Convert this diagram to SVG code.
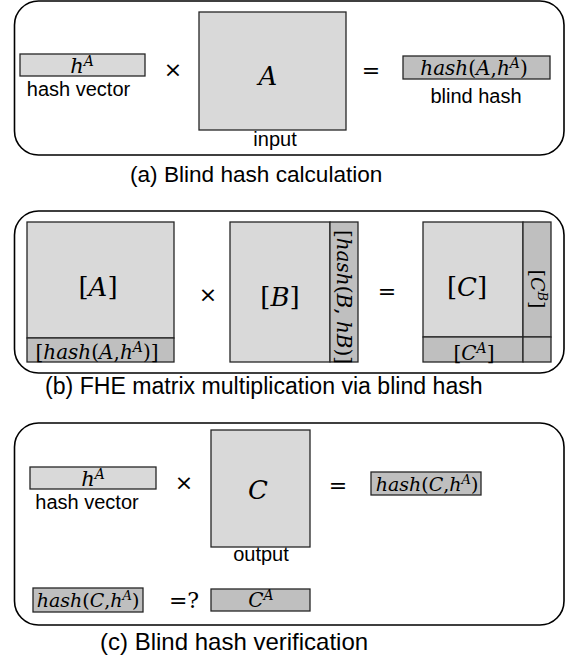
<svg xmlns="http://www.w3.org/2000/svg" width="568" height="661" viewBox="0 0 568 661">
<style>
.frame{fill:none;stroke:#000;stroke-width:1.6}
.lt{fill:#d9d9d9;stroke:#262626;stroke-width:1.3}
.dk{fill:#bfbfbf;stroke:#262626;stroke-width:1.3}
.lbl{font-family:"Liberation Sans",Arial,sans-serif;font-size:20px;fill:#000;text-anchor:middle}
.cap{font-family:"Liberation Sans",Arial,sans-serif;fill:#000}
.m{font-family:"DejaVu Serif","Liberation Serif",serif;font-style:italic;fill:#000;text-anchor:middle}
.u{font-style:normal}
.op{font-family:"DejaVu Sans","Liberation Sans",sans-serif;font-size:22px;fill:#000;text-anchor:middle}
.opm{font-family:"DejaVu Serif","Liberation Serif",serif;font-size:22px;fill:#000;text-anchor:middle}
</style>
<rect width="568" height="661" fill="#fff"/>

<!-- Panel (a) -->
<g id="panel-a">
<rect class="frame" x="14.5" y="1" width="549.5" height="154" rx="24"/>
<g id="a-hashvector">
<rect class="lt" x="20" y="54" width="125" height="22"/>
<text class="m" x="82" y="73" font-size="21">h<tspan dy="-7" font-size="14">A</tspan></text>
<text class="lbl" x="78.5" y="96">hash vector</text>
</g>
<text class="op" x="173" y="77">×</text>
<g id="a-input">
<rect class="lt" x="199" y="12" width="147" height="118"/>
<text class="m" x="268" y="85" font-size="26">A</text>
<text class="lbl" x="275" y="146">input</text>
</g>
<text class="opm" x="371" y="78">=</text>
<g id="a-blindhash">
<rect class="dk" x="403" y="56" width="147" height="23"/>
<text class="m" x="474" y="75" font-size="20">hash<tspan class="u">(</tspan>A<tspan class="u">,</tspan>h<tspan dy="-7" font-size="14">A</tspan><tspan class="u" dy="7">)</tspan></text>
<text class="lbl" x="476" y="103">blind hash</text>
</g>
<text class="cap" x="130" y="182" font-size="22.6">(a) Blind hash calculation</text>
</g>

<!-- Panel (b) -->
<g id="panel-b">
<rect class="frame" x="14.5" y="211" width="549.5" height="162" rx="24"/>
<g id="b-A">
<rect class="lt" x="27" y="222" width="147" height="116"/>
<rect class="dk" x="27" y="338" width="147" height="24"/>
<text class="m" x="98" y="296" font-size="26"><tspan class="u">[</tspan>A<tspan class="u">]</tspan></text>
<text class="m" x="97" y="359" font-size="20"><tspan class="u">[</tspan>hash<tspan class="u">(</tspan>A<tspan class="u">,</tspan>h<tspan dy="-7" font-size="14">A</tspan><tspan class="u" dy="7">)]</tspan></text>
</g>
<text class="op" x="208" y="302">×</text>
<g id="b-B">
<rect class="lt" x="230" y="222" width="100" height="140"/>
<rect class="dk" x="330" y="222" width="28" height="140"/>
<text class="m" x="280" y="306" font-size="26"><tspan class="u">[</tspan>B<tspan class="u">]</tspan></text>
<text class="m" font-size="20" transform="translate(337,297) rotate(90)"><tspan class="u">[</tspan>hash<tspan class="u">(</tspan>B<tspan class="u">,</tspan> hB<tspan class="u">)]</tspan></text>
</g>
<text class="opm" x="387" y="299">=</text>
<g id="b-C">
<rect class="lt" x="423" y="222" width="100" height="115"/>
<rect class="dk" x="523" y="222" width="28" height="115"/>
<rect class="dk" x="423" y="337" width="100" height="25"/>
<rect class="dk" x="523" y="337" width="28" height="25"/>
<text class="m" x="467" y="296" font-size="26"><tspan class="u">[</tspan>C<tspan class="u">]</tspan></text>
<text class="m" x="474" y="360" font-size="20"><tspan class="u">[</tspan>C<tspan dy="-7" font-size="14">A</tspan><tspan class="u" dy="7">]</tspan></text>
<text class="m" font-size="19" transform="translate(531,289) rotate(90)"><tspan class="u">[</tspan>C<tspan dy="-7" font-size="13">B</tspan><tspan class="u" dy="7">]</tspan></text>
</g>
<text class="cap" x="45" y="394" font-size="23.1">(b) FHE matrix multiplication via blind hash</text>
</g>

<!-- Panel (c) -->
<g id="panel-c">
<rect class="frame" x="14.5" y="423" width="549.5" height="202" rx="24"/>
<g id="c-hashvector">
<rect class="lt" x="30" y="467" width="126" height="22"/>
<text class="m" x="93" y="486" font-size="21">h<tspan dy="-7" font-size="14">A</tspan></text>
<text class="lbl" x="87" y="509">hash vector</text>
</g>
<text class="op" x="184" y="490">×</text>
<g id="c-output">
<rect class="lt" x="211" y="430" width="99" height="117"/>
<text class="m" x="258" y="499" font-size="26">C</text>
<text class="lbl" x="261" y="561">output</text>
</g>
<text class="opm" x="338" y="493">=</text>
<g id="c-hash">
<rect class="dk" x="371" y="472" width="110" height="23"/>
<text class="m" x="427" y="491" font-size="19">hash<tspan class="u">(</tspan>C<tspan class="u">,</tspan>h<tspan dy="-7" font-size="13">A</tspan><tspan class="u" dy="7">)</tspan></text>
</g>
<g id="c-hash2">
<rect class="dk" x="33" y="588" width="110" height="24"/>
<text class="m" x="88" y="607" font-size="19">hash<tspan class="u">(</tspan>C<tspan class="u">,</tspan>h<tspan dy="-7" font-size="13">A</tspan><tspan class="u" dy="7">)</tspan></text>
</g>
<text class="opm" x="184" y="608">=?</text>
<g id="c-CA">
<rect class="dk" x="211" y="589" width="99" height="22"/>
<text class="m" x="261" y="607" font-size="20">C<tspan dy="-7" font-size="14">A</tspan></text>
</g>
<text class="cap" x="100" y="650" font-size="24">(c) Blind hash verification</text>
</g>
</svg>
